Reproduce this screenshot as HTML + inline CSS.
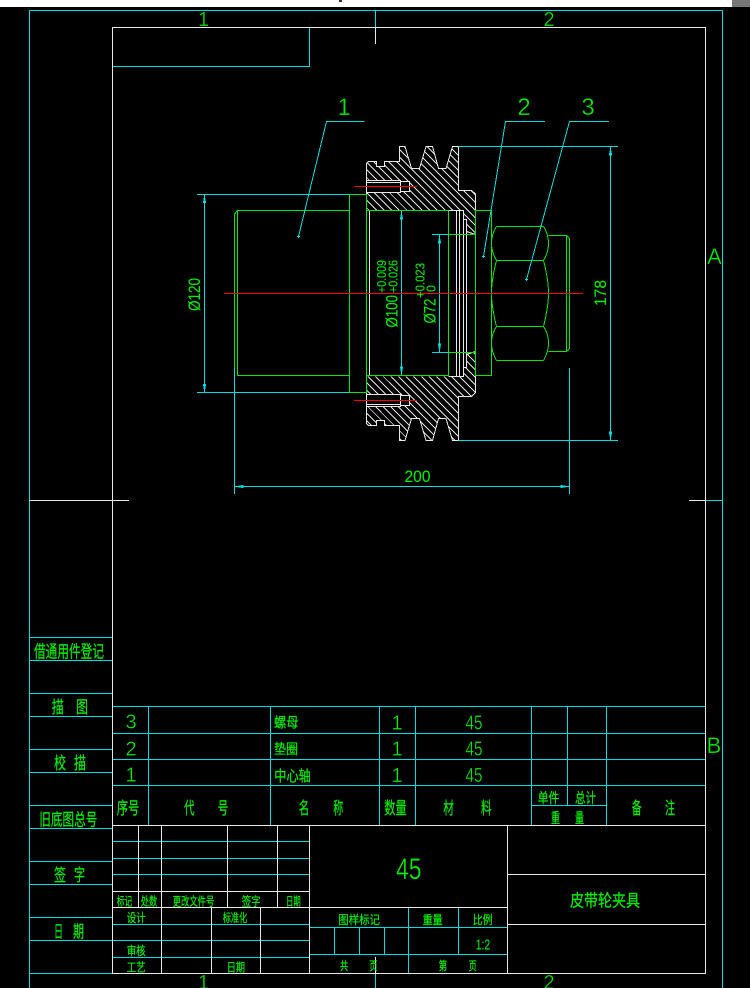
<!DOCTYPE html>
<html><head><meta charset="utf-8"><title>皮带轮夹具</title>
<style>
html,body{margin:0;padding:0;background:#000}
svg{display:block}
path{shape-rendering:crispEdges}
text{font-family:"Liberation Sans","Noto Sans CJK SC",sans-serif;fill:#00ee00}
.c{font-family:"Noto Sans CJK SC","WenQuanYi Zen Hei",sans-serif;font-weight:400;stroke:#00ee00;stroke-width:.25px}
.d{stroke:#000;stroke-width:.35px}
.dd{stroke:#00ee00;stroke-width:.1px}
</style></head><body>
<svg width="750" height="988" viewBox="0 0 750 988" xmlns="http://www.w3.org/2000/svg">
<defs>
<clipPath id="hc"><path clip-rule="evenodd" d="M366.7,163.3L368.7,161.3H376.7V166.3H384.3V161.3H399.3V146H405L411.7,168H419.3L426,146H432.3L438.7,168H446L452.3,146H458.7V190.3H471.7L475.3,194V234.7L466.7,231.7V219.3H463.3V210H366.7Z
M366.7,180H400V181H409.3V191H400V192.3H366.7Z
M366.7,423.2L368.7,425.2H376.7V420.2H384.3V425.2H399.3V440.5H405L411.7,418.5H419.3L426,440.5H432.3L438.7,418.5H446L452.3,440.5H458.7V396.2H471.7L475.3,392.5V351.8L466.7,354.8V367.2H463.3V376.5H366.7Z
M366.7,406.5H400V405.5H409.3V395.5H400V394.2H366.7Z"/></clipPath>
</defs>
<rect width="750" height="988" fill="#000"/>
<rect width="750" height="7" fill="#fff"/>
<rect x="732" y="0" width="18" height="7" fill="#777"/>
<rect x="339" y="0" width="3" height="2" fill="#333"/>

<!-- frame -->
<g fill="none" stroke-width="1">
<path stroke="#00e0e0" d="M29.5,988V10.5H722.5V988M375.5,10V27M375.5,973V988M705,500.5H722M112,66.5H309.5V27
M29,637.5H112M29,660.5H112M29,693.5H112M29,716.5H112M29,749.5H112M29,772.5H112M29,805.5H112M29,828.5H112M29,861.5H112M29,884.5H112M29,917.5H112M29,940.5H112M29,973.5H112
M112,706.5H705M112,733.5H705M112,759.5H705M112,785.5H705
M148.5,706V825M270.5,706V825M379.5,706V825M415.5,706V825M531.5,706V825M567.5,706V805M606.5,706V825M531,805.5H606
M112,841.5H309M112,858.5H309M112,874.5H309
M112,924.5H309M112,940.5H309M112,957.5H309
M309,927.5H507M309,954.5H507M408.5,907V973M458.5,907V954M334.5,927V954M359.5,927V954M384.5,927V954"/>
<path stroke="#e8e8e8" d="M112.5,973.5V27.5H705.5V973.5H112M375.5,27V44M375.5,957V973M29,500.5H129M689,500.5H705
M112,825.5H705M112,891.5H309M112,907.5H507M507,874.5H705M507,924.5H705
M138.5,825V907M161.5,825V973M227.5,825V907M277.5,825V907M309.5,825V973M507.5,825V973M211.5,907V973M260.5,907V973"/>
</g>

<!-- pulley hatch -->
<g clip-path="url(#hc)">
<path fill="none" stroke="#e0e0e0" stroke-width="1" d="M366,40l110,110M366,47.6l110,110M366,55.2l110,110M366,62.8l110,110M366,70.4l110,110M366,78l110,110M366,85.6l110,110M366,93.2l110,110M366,100.8l110,110M366,108.4l110,110M366,116l110,110M366,123.6l110,110M366,131.2l110,110M366,138.8l110,110M366,146.4l110,110M366,154l110,110M366,161.6l110,110M366,169.2l110,110M366,176.8l110,110M366,184.4l110,110M366,192l110,110M366,199.6l110,110M366,207.2l110,110M366,214.8l110,110M366,222.4l110,110M366,230l110,110M366,237.6l110,110M366,245.2l110,110M366,252.8l110,110M366,260.4l110,110M366,268l110,110M366,275.6l110,110M366,283.2l110,110M366,290.8l110,110M366,298.4l110,110M366,306l110,110M366,313.6l110,110M366,321.2l110,110M366,328.8l110,110M366,336.4l110,110M366,344l110,110M366,351.6l110,110M366,359.2l110,110M366,366.8l110,110M366,374.4l110,110M366,382l110,110M366,389.6l110,110M366,397.2l110,110M366,404.8l110,110M366,412.4l110,110M366,420l110,110M366,427.6l110,110M366,435.2l110,110"/>
</g>
<g fill="none" stroke="#e8e8e8" stroke-width="1">
<path d="M366.5,194V163.5L368.5,161.5H376.5V166.5H384.5V161.5H399.5V146.5H405L411.5,168.5H419.5L426,146.5H432.5L438.5,168.5H446L452.5,146.5H458.5V190.5H471.5L475.5,194V234.5"/>
<path d="M366.5,392.5V423.5L368.5,425.5H376.5V420.5H384.5V425.5H399.5V440.5H405L411.5,418.5H419.5L426,440.5H432.5L438.5,418.5H446L452.5,440.5H458.5V396.5H471.5L475.5,392.5V351.5"/>
<path d="M366.5,180.5H400.5V192.5H366.5ZM400.5,181.5H409.5V191.5H400.5M366.5,182.5H400.5"/>
<path d="M366.5,406.5H400.5V394.5H366.5ZM400.5,405.5H409.5V395.5H400.5M366.5,404.5H400.5"/>
<path d="M448.5,210.5H463.5M448.5,376.5H463.5M456.5,210V376.5M459.5,210V376.5M463.5,210V377M463.5,219.5H466.5V367.5H463.5M466.5,231.5L475.5,234.5M466.5,354.5L475.5,351.5M369.5,210V376"/>
</g>

<!-- green part lines -->
<g fill="none" stroke="#00e800" stroke-width="1">
<path d="M234.5,368V214L237.5,210.5V375.5M237.5,210.5H349.5M237.5,375.5H349.5M349.5,194.5H366.5V392.5H349.5ZM366.5,210.5H448.5M366.5,375.5H448.5M448.5,210.5V376M448.5,234.5H475.5M448.5,352.5H475.5M475.5,210V376M475.5,210.5H491.5V375.5H475.5"/>
<path d="M496.5,226.5H543.5M496.5,260.5H543.5M496.5,326.5H543.5M496.5,360.5H543.5
M496.5,226.5Q491.5,234 491.5,243.5Q491.5,252 496.5,260.5Q491.5,280 491.5,293.5Q491.5,306 496.5,326.5Q491.5,334 491.5,343Q491.5,352 496.5,360.5
M543.5,226.5Q548.5,234 548.5,243.5Q548.5,252 543.5,260.5Q548.5,280 548.5,293.5Q548.5,306 543.5,326.5Q548.5,334 548.5,343Q548.5,352 543.5,360.5
M548.5,235.5H566.5V351.5H548.5M566.5,235.5L569.5,238.5V348.5L566.5,351.5"/>
</g>

<!-- cyan dims -->
<g fill="none" stroke="#00e0e0" stroke-width="1">
<path d="M197,194.5H349M197,392.5H349M204.5,195V392M401.5,211V375M439.5,235V352M432,234.5H449M432,352.5H449M610.5,147V440M458.7,146.5H618M458.7,440.5H618M234.5,368V494M569.5,368V494M235,486.5H569"/>
<path d="M364.5,121.5H326.5L298.5,236.5M545,121.5H505.5L483.5,256.5M609,121.5H569.5L526.5,279.5"/>
<path d="M296.8,236.5h3M298.5,235v3M481.8,256.5h3M483.5,255v3M524.8,279.5h3M526.5,278v3"/>
</g>
<g fill="#00e0e0">
<path d="M204.5,194l1.6,9h-3.2zM204.5,393l1.6,-9h-3.2zM401.5,210.5l1.6,9h-3.2zM401.5,375.5l1.6,-9h-3.2zM439.5,234.5l1.6,9h-3.2zM439.5,352.5l1.6,-9h-3.2zM610.5,146.5l1.7,9h-3.4zM610.5,440.5l1.7,-9h-3.4zM234.5,486.5l9,-1.6v3.2zM569.5,486.5l-9,-1.6v3.2z"/>
</g>

<!-- red -->
<g stroke="#ff0000" stroke-width="1">
<path d="M224,293.5H583M354,186.5H417M354,400.5H417"/>
</g>

<!-- frame labels -->
<g font-size="20" text-anchor="middle">
<text x="203.5" y="26" class="d">1</text><text x="549" y="26" class="d">2</text>
<text x="203.5" y="989" class="d">1</text><text x="549" y="989" class="d">2</text>
</g>
<text x="714.5" y="264" font-size="22" text-anchor="middle" class="d">A</text>
<text x="714" y="753" font-size="22" text-anchor="middle" class="d">B</text>

<!-- leaders -->
<text x="344" y="115" font-size="24" text-anchor="middle" class="d">1</text>
<text x="524" y="115" font-size="24" text-anchor="middle" class="d">2</text>
<text x="588" y="115" font-size="24" text-anchor="middle" class="d">3</text>

<!-- dimensions -->
<text x="404.5" y="482" font-size="17" textLength="26" lengthAdjust="spacingAndGlyphs" class="dd">200</text>
<text transform="translate(606,306) rotate(-90)" font-size="17" textLength="26" lengthAdjust="spacingAndGlyphs" class="dd">178</text>
<text transform="translate(200,311) rotate(-90)" font-size="17" textLength="33" lengthAdjust="spacingAndGlyphs" class="dd">Ø120</text>
<text transform="translate(397.7,327.5) rotate(-90)" font-size="17" textLength="32.5" lengthAdjust="spacingAndGlyphs" class="dd">Ø100</text>
<text transform="translate(435.3,323.5) rotate(-90)" font-size="17" textLength="25" lengthAdjust="spacingAndGlyphs" class="dd">Ø72</text>
<text transform="translate(386,293) rotate(-90)" font-size="13" textLength="33" lengthAdjust="spacingAndGlyphs" class="dd">+0.009</text>
<text transform="translate(397.7,293) rotate(-90)" font-size="13" textLength="33" lengthAdjust="spacingAndGlyphs" class="dd">+0.026</text>
<text transform="translate(424.3,298) rotate(-90)" font-size="13" textLength="35" lengthAdjust="spacingAndGlyphs" class="dd">+0.023</text>
<text transform="translate(435.3,292) rotate(-90)" font-size="13" textLength="7" lengthAdjust="spacingAndGlyphs" class="dd">0</text>

<!-- left column -->
<g>
<text class="c" x="34" y="657.5" font-size="17" textLength="70" lengthAdjust="spacingAndGlyphs">借通用件登记</text>
<text class="c" x="51.7" y="713" font-size="17" textLength="12" lengthAdjust="spacingAndGlyphs">描</text>
<text class="c" x="76" y="713" font-size="17" textLength="12" lengthAdjust="spacingAndGlyphs">图</text>
<text class="c" x="54" y="769" font-size="17" textLength="12" lengthAdjust="spacingAndGlyphs">校</text>
<text class="c" x="74" y="769" font-size="17" textLength="12" lengthAdjust="spacingAndGlyphs">描</text>
<text class="c" x="39.3" y="825.5" font-size="17" textLength="58" lengthAdjust="spacingAndGlyphs">旧底图总号</text>
<text class="c" x="54" y="881" font-size="17" textLength="12" lengthAdjust="spacingAndGlyphs">签</text>
<text class="c" x="74" y="881" font-size="17" textLength="11" lengthAdjust="spacingAndGlyphs">字</text>
<text class="c" x="54" y="937.5" font-size="17" textLength="9" lengthAdjust="spacingAndGlyphs">日</text>
<text class="c" x="73" y="937.5" font-size="17" textLength="11" lengthAdjust="spacingAndGlyphs">期</text>

<!-- parts table -->
<text class="c" x="274" y="727.5" font-size="14" textLength="24.5" lengthAdjust="spacingAndGlyphs">螺母</text>
<text class="c" x="274" y="754" font-size="14" textLength="24" lengthAdjust="spacingAndGlyphs">垫圈</text>
<text class="c" x="274.3" y="781" font-size="15" textLength="36.5" lengthAdjust="spacingAndGlyphs">中心轴</text>
<text class="c" x="116.7" y="814" font-size="17" textLength="22.7" lengthAdjust="spacingAndGlyphs">序号</text>
<text class="c" x="184" y="814" font-size="17" textLength="10.5" lengthAdjust="spacingAndGlyphs">代</text>
<text class="c" x="217.7" y="814" font-size="17" textLength="10.5" lengthAdjust="spacingAndGlyphs">号</text>
<text class="c" x="298.7" y="814" font-size="17" textLength="10.5" lengthAdjust="spacingAndGlyphs">名</text>
<text class="c" x="333.3" y="814" font-size="17" textLength="10" lengthAdjust="spacingAndGlyphs">称</text>
<text class="c" x="384.3" y="814" font-size="17" textLength="22.4" lengthAdjust="spacingAndGlyphs">数量</text>
<text class="c" x="443.3" y="814" font-size="17" textLength="10.7" lengthAdjust="spacingAndGlyphs">材</text>
<text class="c" x="481" y="814" font-size="17" textLength="10.7" lengthAdjust="spacingAndGlyphs">料</text>
<text class="c" x="537.7" y="803" font-size="14" textLength="21.6" lengthAdjust="spacingAndGlyphs">单件</text>
<text class="c" x="575" y="803" font-size="14" textLength="21" lengthAdjust="spacingAndGlyphs">总计</text>
<text class="c" x="551" y="823" font-size="14" textLength="9" lengthAdjust="spacingAndGlyphs">重</text>
<text class="c" x="575" y="823" font-size="14" textLength="9" lengthAdjust="spacingAndGlyphs">量</text>
<text class="c" x="631.7" y="814" font-size="17" textLength="10" lengthAdjust="spacingAndGlyphs">备</text>
<text class="c" x="665" y="814" font-size="17" textLength="10" lengthAdjust="spacingAndGlyphs">注</text>

<!-- revision table -->
<text class="c" x="116.7" y="905.5" font-size="12" textLength="15.6" lengthAdjust="spacingAndGlyphs">标记</text>
<text class="c" x="140.7" y="905.5" font-size="12" textLength="16.6" lengthAdjust="spacingAndGlyphs">处数</text>
<text class="c" x="172.7" y="905.5" font-size="12" textLength="41.6" lengthAdjust="spacingAndGlyphs">更改文件号</text>
<text class="c" x="241.7" y="905.5" font-size="12" textLength="19" lengthAdjust="spacingAndGlyphs">签字</text>
<text class="c" x="286" y="905.5" font-size="12" textLength="14.7" lengthAdjust="spacingAndGlyphs">日期</text>
<text class="c" x="126.7" y="922" font-size="12" textLength="19" lengthAdjust="spacingAndGlyphs">设计</text>
<text class="c" x="222.7" y="922" font-size="12" textLength="24.6" lengthAdjust="spacingAndGlyphs">标准化</text>
<text class="c" x="126.7" y="955" font-size="12" textLength="19" lengthAdjust="spacingAndGlyphs">审核</text>
<text class="c" x="126.7" y="971.5" font-size="12" textLength="19" lengthAdjust="spacingAndGlyphs">工艺</text>
<text class="c" x="226.7" y="971.5" font-size="12" textLength="18.3" lengthAdjust="spacingAndGlyphs">日期</text>

<!-- title block -->
<text class="c" x="570" y="906.5" font-size="17" textLength="70" lengthAdjust="spacingAndGlyphs">皮带轮夹具</text>
<text class="c" x="338.3" y="924" font-size="12" textLength="41.7" lengthAdjust="spacingAndGlyphs">图样标记</text>
<text class="c" x="422.7" y="924" font-size="12" textLength="20" lengthAdjust="spacingAndGlyphs">重量</text>
<text class="c" x="472.7" y="924" font-size="12" textLength="20" lengthAdjust="spacingAndGlyphs">比例</text>
<text class="c" x="340" y="970" font-size="12" textLength="8.3" lengthAdjust="spacingAndGlyphs">共</text>
<text class="c" x="369.3" y="970" font-size="12" textLength="8.4" lengthAdjust="spacingAndGlyphs">页</text>
<text class="c" x="438.7" y="970" font-size="12" textLength="8.3" lengthAdjust="spacingAndGlyphs">第</text>
<text class="c" x="468.7" y="970" font-size="12" textLength="8" lengthAdjust="spacingAndGlyphs">页</text>
</g>

<!-- table digits -->
<g font-size="20" text-anchor="middle">
<text class="d" x="131" y="728.7">3</text>
<text class="d" x="131" y="755.3">2</text>
<text class="d" x="131" y="781.7">1</text>
<text class="d" x="397" y="729.3">1</text>
<text class="d" x="397" y="755.7">1</text>
<text class="d" x="397" y="782">1</text>
</g>
<g font-size="20">
<text class="d" x="465.5" y="729.3" textLength="17" lengthAdjust="spacingAndGlyphs">45</text>
<text class="d" x="465.5" y="755.7" textLength="17" lengthAdjust="spacingAndGlyphs">45</text>
<text class="d" x="465.5" y="782" textLength="17" lengthAdjust="spacingAndGlyphs">45</text>
</g>
<text class="d" x="396" y="879" font-size="30" textLength="25.5" lengthAdjust="spacingAndGlyphs">45</text>
<text class="dd" x="475.7" y="949.3" font-size="15" textLength="14.5" lengthAdjust="spacingAndGlyphs">1:2</text>
</svg>
</body></html>
